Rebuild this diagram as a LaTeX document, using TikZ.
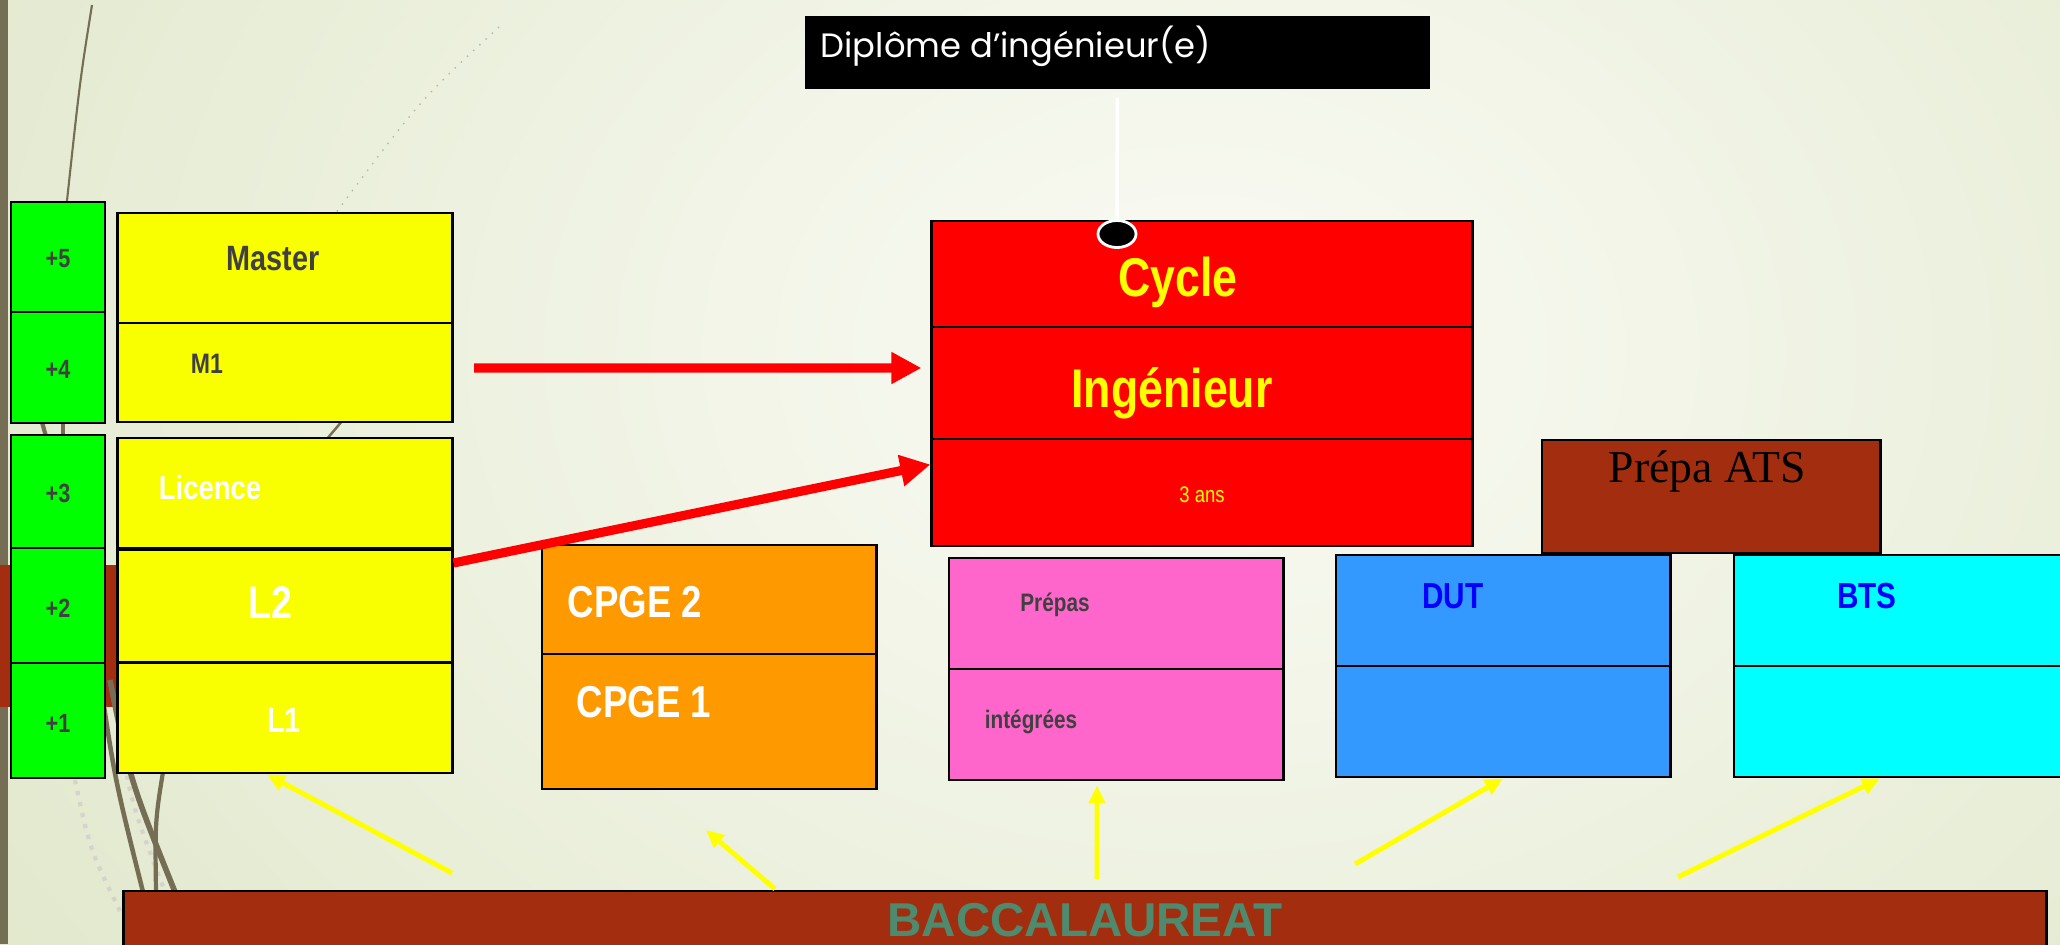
\documentclass[tikz,border=0pt]{standalone}
\usepackage{fontspec}
\setmainfont{Liberation Sans}
\newfontfamily\narrowfont[FakeStretch=0.82]{Liberation Sans}
\newfontfamily\gothicfont{Poppins}
\newfontfamily\romanfont{Liberation Serif}
\usetikzlibrary{calc}
\usetikzlibrary{arrows.meta}
\usetikzlibrary{shapes.geometric}
\newcommand\fsz[1]{\fontsize{#1}{#1}\selectfont}
\definecolor{cVert}{HTML}{00FF00}
\definecolor{cJaune}{HTML}{FAFF00}
\definecolor{cJauneVif}{HTML}{FFFF00}
\definecolor{cOrange}{HTML}{FF9900}
\definecolor{cRose}{HTML}{FF66CC}
\definecolor{cBleu}{HTML}{3399FF}
\definecolor{cCyan}{HTML}{00FFFF}
\definecolor{cBleuTxt}{HTML}{0000FF}
\definecolor{cRouge}{HTML}{FF0000}
\definecolor{cBrique}{HTML}{A32E0F}
\definecolor{cGris}{HTML}{404040}
\definecolor{cVertBac}{HTML}{4E8A6E}
\definecolor{cOlive}{HTML}{766D55}
\definecolor{bgout}{HTML}{DDE5C5}
\definecolor{bgin}{HTML}{FAFBF5}

\begin{document}
\begin{tikzpicture}[x=0.01cm,y=-0.01cm,
  box/.style 2 args={draw=black,line width=0.8pt,inner sep=0pt,minimum width=#1cm,minimum height=#2cm},
  txt/.style={inner sep=0pt,anchor=base,font=\narrowfont\bfseries\fsz{#1}},
  redarrow/.style={draw=cRouge,line width=2.6pt,-{Triangle[length=0.3cm,width=0.3cm]}},
  yelarrow/.style={draw=cJauneVif,line width=1.4pt,-{Triangle[length=0.18cm,width=0.16cm]}}]
\useasboundingbox (0,0) rectangle (2060,944);
\clip (0,0) rectangle (2060,944);
\fill[bgout] (0,0) rectangle (2060,944);
\shade[inner color=bgin,outer color=bgout] (1200,350) ellipse (1700 and 1300);
\fill[cOlive] (0,0) rectangle (8,944);
\fill[cBrique] (0,565) rectangle (118,707);
\draw[cOlive,line width=0.6pt] (92,5) .. controls (80,80) .. (66,210);
\draw[cOlive!50,dotted,line width=0.4pt] (499,27) .. controls (420,100) .. (335,214);
\draw[cOlive,line width=0.7pt] (360,400) -- (326,440);
\draw[cOlive,line width=1.2pt] (40,415) -- (47,440);
\draw[cOlive,line width=1.2pt] (63,415) -- (63,440);
\draw[cOlive!30,dotted,line width=1.2pt] (75,780) .. controls (90,850) .. (122,915);
\draw[cOlive!30,dotted,line width=1.2pt] (118,720) .. controls (130,800) .. (165,892);
\draw[cOlive,line width=1.3pt] (100,680) .. controls (115,780) .. (143,892);
\draw[cOlive,line width=1.6pt] (110,680) .. controls (130,780) .. (175,892);
\draw[cOlive,line width=1.2pt] (165,760) .. controls (155,820) .. (156,892);

\node[box={0.94}{1.10},fill=cVert] (p5) at (58,257) {};
\node[box={0.94}{1.11},fill=cVert] (p4) at (58,367.5) {};
\node[box={0.94}{1.13},fill=cVert] (p3) at (58,491.5) {};
\node[box={0.94}{1.15},fill=cVert] (p2) at (58,605.5) {};
\node[box={0.94}{1.15},fill=cVert] (p1) at (58,720.5) {};
\node[txt={7.5},text=cGris] (tp5) at (58,267) {+5};
\node[txt={7.5},text=cGris] (tp4) at (58,378) {+4};
\node[txt={7.5},text=cGris] (tp3) at (58,502) {+3};
\node[txt={7.5},text=cGris] (tp2) at (58,617) {+2};
\node[txt={7.5},text=cGris] (tp1) at (58,732) {+1};

\node[box={3.34}{1.10},fill=cJaune] (master) at (285,268) {};
\node[box={3.34}{0.99},fill=cJaune] (m1) at (285,372.5) {};
\node[box={3.34}{1.10},fill=cJaune] (lic) at (285,493) {};
\node[box={3.34}{1.12},fill=cJaune] (l2) at (285,606) {};
\node[box={3.34}{1.10},fill=cJaune] (l1) at (285,718) {};
\node[txt={10},text=cGris] (tmaster) at (273,270) {Master};
\node[txt={8},text=cGris] (tm1) at (207,373) {M1};
\node[txt={9.5},text=white] (tlic) at (210,499) {Licence};
\node[txt={13},text=white] (tl2) at (270,618) {L2};
\node[txt={10},text=white] (tl1) at (284,732) {L1};

\node[box={3.34}{1.09},fill=cOrange] (cpge2) at (709,599.5) {};
\node[box={3.34}{1.35},fill=cOrange] (cpge1) at (709,721.5) {};
\node[txt={12.7},text=white] (tcpge2) at (635,617) {CPGE 2};
\node[txt={12.7},text=white] (tcpge1) at (644,717) {CPGE 1};

\node[fill=black,inner sep=0pt,minimum width=6.25cm,minimum height=0.73cm] (dip) at (1117.5,52.5) {};
\node[inner sep=0pt,anchor=base west,font=\gothicfont\fsz{9.6},text=white] (tdip) at (820,57) {Diplôme d’ingénieur(e)};

\node[box={5.40}{1.06},fill=cRouge] (cycle) at (1202,274) {};
\node[box={5.40}{1.12},fill=cRouge] (ing) at (1202,383) {};
\node[box={5.40}{1.07},fill=cRouge] (ans) at (1202,492.5) {};
\node[txt={15.5},text=cJauneVif] (tcycle) at (1178,296) {Cycle};
\node[txt={15.5},text=cJauneVif] (ting) at (1172,407) {Ingénieur};
\node[inner sep=0pt,anchor=base,font=\narrowfont\fsz{6.4},text=cJauneVif] (tans) at (1202,502) {3 ans};
\node[ellipse,draw=white,fill=black,line width=0.8pt,inner sep=0pt,minimum width=0.38cm,minimum height=0.27cm] (dot) at (1117,234) {};
\draw[white,line width=1pt,shorten <=0.08cm] (dip.south) -- (dot.north);

\node[box={3.38}{1.13},fill=cBrique] (ats) at (1711,496.5) {};
\node[inner sep=0pt,anchor=base,font=\romanfont\fsz{13}] (tats) at (1707,482) {Prépa ATS};

\node[box={3.34}{1.11},fill=cRose] (prep1) at (1116,613.5) {};
\node[box={3.34}{1.11},fill=cRose] (prep2) at (1116,724.5) {};
\node[txt={7.2},text=cGris] (tprep1) at (1055,611) {Prépas};
\node[txt={7.2},text=cGris] (tprep2) at (1031,728) {intégrées};

\node[box={3.34}{1.11},fill=cBleu] (dut1) at (1503,610.5) {};
\node[box={3.34}{1.11},fill=cBleu] (dut2) at (1503,721.5) {};
\node[txt={10.3},text=cBleuTxt] (tdut) at (1453,608) {DUT};

\node[box={3.36}{1.11},fill=cCyan] (bts1) at (1902,610.5) {};
\node[box={3.36}{1.11},fill=cCyan] (bts2) at (1902,721.5) {};
\node[txt={10.3},text=cBleuTxt] (tbts) at (1867,608) {BTS};

\node[box={19.22}{0.70},fill=cBrique] (bac) at (1085,926) {};
\node[inner sep=0pt,anchor=base,font=\bfseries\fsz{13.5},text=cVertBac] (tbac) at (1085,936) {BACCALAUREAT};

\coordinate (m1e) at (474,368);
\draw[redarrow,shorten >=0.09cm] (m1e) -- ([yshift=0.15cm]ing.west);
\draw[redarrow] ([yshift=0.43cm]l2.east) -- ([yshift=0.28cm]ans.west);

\coordinate (b1) at (452,873);
\coordinate (b2) at (775,889);
\coordinate (c2) at (706,830);
\coordinate (b3) at (1097,879);
\coordinate (b4) at (1355,864);
\coordinate (b5) at (1678,877);
\draw[yelarrow] (b1) -- ([xshift=-0.18cm]l1.south);
\draw[yelarrow] (b2) -- (c2);
\draw[yelarrow,shorten >=0.04cm] (b3) -- ([xshift=-0.19cm]prep2.south);
\draw[yelarrow] (b4) -- (dut2.south);
\draw[yelarrow] (b5) -- ([xshift=-0.22cm]bts2.south);
\end{tikzpicture}
\end{document}
